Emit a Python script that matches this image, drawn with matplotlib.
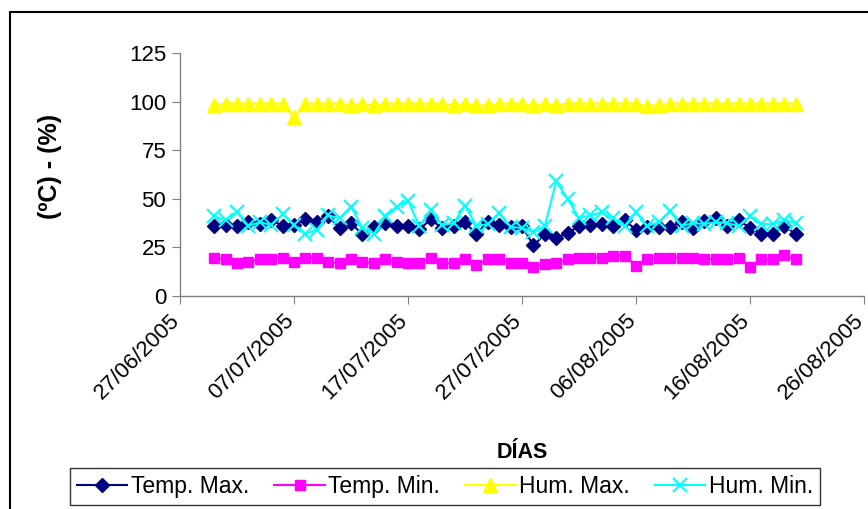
import matplotlib
matplotlib.use("Agg")
import matplotlib.pyplot as plt
import matplotlib.dates as mdates
import matplotlib.transforms as mtransforms
import pandas as pd
from matplotlib.patches import Rectangle

plt.rcParams['font.family'] = ['Liberation Sans', 'DejaVu Sans']

# daily readings, 30/06/2005 .. 20/08/2005
dates = pd.date_range("2005-06-30", "2005-08-20", freq="D")

temp_max = [36, 36.5, 36, 38, 37, 39, 36, 36.5, 39.5, 38, 41, 35, 37.5,
            31.7, 35.6, 37.4, 36, 36, 34.3, 39.4, 34.8, 36, 37.9, 31.7, 38.2, 36.5,
            35.6, 36, 26, 31.7, 30, 32.2, 36, 36.5, 37, 36, 39, 34,
            35.6, 35.6, 35.6, 38, 34.8, 38.6, 40, 36, 39, 35, 32, 32, 36, 32]

temp_min = [19.7, 18.9, 16.8, 17.7, 18.9, 18.9, 19.7, 17.7, 19.7, 19.7, 17.7, 16.8, 18.9,
            17.7, 16.8, 18.9, 17.7, 16.8, 16.8, 19.7, 16.8, 16.8, 18.9, 15.9, 18.9, 18.9,
            16.8, 16.8, 15.1, 16.3, 16.8, 18.9, 19.7, 19.7, 19.7, 20.6, 20.6, 15.5,
            18.9, 19.7, 19.7, 19.7, 19.7, 18.9, 18.9, 18.9, 19.7, 15.1, 18.9, 18.9, 20.9, 18.9]

hum_max = [98, 99, 99, 99, 99, 99, 99, 92, 99, 99, 99, 99, 98,
           99, 98, 99, 99, 99, 99, 99, 99, 98, 99, 98, 98, 99,
           99, 99, 98, 99, 98, 99, 99, 99, 99, 99, 99, 99,
           97.5, 98.5, 99, 99, 99, 99, 99, 99, 99, 99, 99, 99, 99, 99]

hum_min = [41, 39, 43, 36, 38, 36.5, 42, 36.5, 32, 34, 41.5, 40, 46,
           35, 32, 41, 46, 49, 36, 44, 36.5, 37.5, 46.5, 36, 37, 42.5,
           35.5, 35, 33, 36, 59, 50, 40, 41.5, 43, 40, 36, 43,
           36, 38, 43.5, 36, 37.5, 37, 38, 37.5, 36, 41, 37, 37, 39, 37.5]

labels = ["Temp. Max.", "Temp. Min.", "Hum. Max.", "Hum. Min."]
y_ticks = [0, 25, 50, 75, 100, 125]


def draw_chart():
    fig = plt.figure(figsize=(8.68, 5.09), dpi=100)
    ax = fig.add_axes([0.2074, 0.4185, 0.788, 0.4774])

    ax.plot(dates, temp_max, color="#000080", marker="D", markersize=7,
            linewidth=1.5, label=labels[0])
    ax.plot(dates, temp_min, color="#FF00FF", marker="s", markersize=7.5,
            linewidth=1.5, label=labels[1])
    ax.plot(dates, hum_max, color="#FFFF00", marker="^", markersize=10,
            linewidth=1.5, label=labels[2])
    ax.plot(dates, hum_min, color="#00FFFF", marker="x", markersize=10,
            markeredgewidth=1.5, linewidth=1.5, label=labels[3])

    ax.set_ylim(0, 125)
    ax.set_yticks(y_ticks)
    start = pd.Timestamp("2005-06-27")
    end = pd.Timestamp("2005-08-26")
    ax.set_xlim(start, end)
    ax.set_xticks(pd.date_range(start, end, freq="10D"))
    ax.xaxis.set_major_formatter(mdates.DateFormatter("%d/%m/%Y"))

    for side in ("top", "right"):
        ax.spines[side].set_visible(False)
    for side in ("left", "bottom"):
        ax.spines[side].set_color("#808080")
        ax.spines[side].set_linewidth(1)
    ax.tick_params(axis="both", direction="out", length=6, color="#808080",
                   labelsize=16, pad=4)
    # nudge date labels left a little so the last one stays inside
    shift = mtransforms.ScaledTranslation(-11 / 100, 0, fig.dpi_scale_trans)
    for lab in ax.get_xticklabels():
        lab.set_rotation(45)
        lab.set_ha("right")
        lab.set_rotation_mode("anchor")
        lab.set_transform(lab.get_transform() + shift)

    fig.text(50 / 868, 1 - 166 / 509, "(ºC) - (%)", rotation=90, fontsize=18,
             fontweight="bold", ha="center", va="center")
    fig.text(522 / 868, 1 - 452 / 509, "DÍAS", fontsize=15.5, fontweight="bold",
             ha="center", va="center")

    leg = fig.legend(loc="lower left", bbox_to_anchor=(70 / 868, 4 / 509), ncol=4,
                     fontsize=16.5, frameon=True, fancybox=False,
                     borderpad=0.3, handlelength=2.2, handletextpad=0.15,
                     columnspacing=1.1, borderaxespad=0.0)
    leg.get_frame().set_edgecolor("black")
    leg.get_frame().set_linewidth(1)

    # chart border
    fig.patches.append(Rectangle((0.012, -0.01), 0.99, 0.987, transform=fig.transFigure,
                                 fill=False, edgecolor="black", linewidth=1.5))

    fig.savefig("out.png", dpi=100)
    plt.close(fig)


if __name__ == "__main__":
    draw_chart()
